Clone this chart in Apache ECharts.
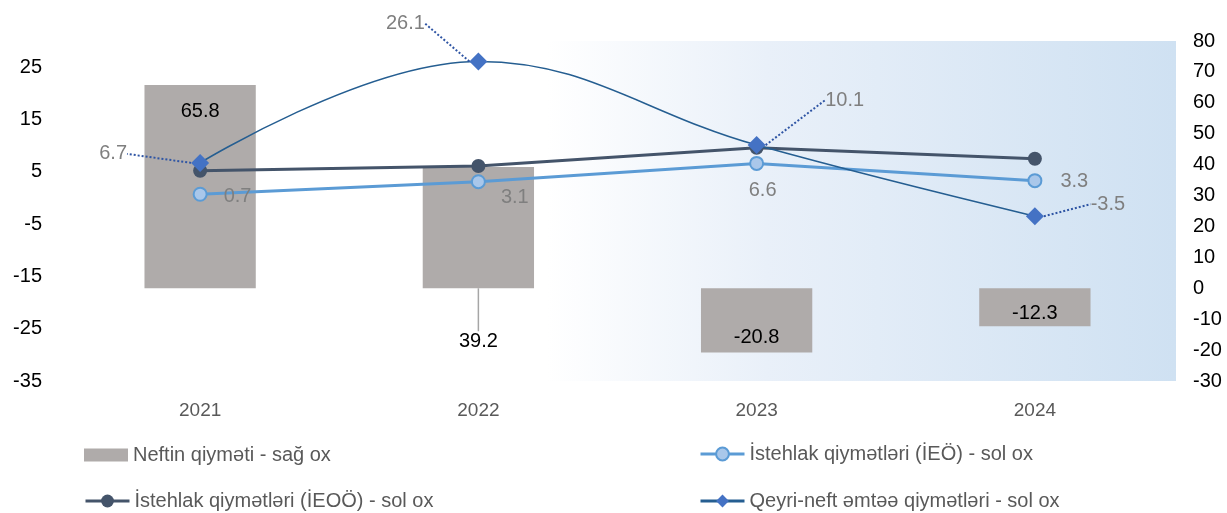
<!DOCTYPE html>
<html>
<head>
<meta charset="utf-8">
<script src="https://cdn.jsdelivr.net/npm/echarts@6/dist/echarts.min.js"></script>
<style>
  html, body { margin: 0; padding: 0; background: #fff; }
  #chart { width: 1227px; height: 513px; }
</style>
</head>
<body>
<div id="chart"></div>
<script>
// data
const years = ['2021', '2022', '2023', '2024'];
const oilPrice = [65.8, 39.2, -20.8, -12.3];      // sağ ox
const cpiIEO = [0.7, 3.1, 6.6, 3.3];              // sol ox
const cpiIEOO = [5.2, 6.1, 9.6, 7.5];             // sol ox
const nonOil = [6.7, 26.1, 10.1, -3.5];           // sol ox
const leftTickLabels = [-35, -25, -15, -5, 5, 15, 25];
const rightTickLabels = [-30, -20, -10, 0, 10, 20, 30, 40, 50, 60, 70, 80];
const seriesNames = [
  'Neftin qiyməti - sağ ox',
  'İstehlak qiymətləri (İEÖ) - sol ox',
  'İstehlak qiymətləri (İEOÖ) - sol ox',
  'Qeyri-neft əmtəə qiymətləri - sol ox'
];

// label placement (px)
const oilLabelPos = [
  { position: 'insideTop', distance: 17 },
  { position: 'bottom', distance: 5 },
  { position: 'insideBottom', distance: 5 },
  { position: 'insideBottom', distance: 3 }
];
const oilLabelShift = [0, 38, 0, 0];
const ieoLabelPos = [
  { position: 'right', distance: 16, offset: [0, 2] },
  { position: 'right', distance: 15, offset: [0, 16] },
  { position: 'bottom', distance: 5, offset: [6, 5] },
  { position: 'right', distance: 18, offset: [0, 1] }
];
const nonOilLabelShift = [[-87, 15], [-73, -14], [88, -21], [73, 12]];

const FONT = 'Arial, "Liberation Sans", sans-serif';
const chart = echarts.init(document.getElementById('chart'));

function legendAt(name, left, top, h, icon) {
  const lg = {
    data: [name], left: left, top: top, padding: 0,
    itemWidth: 44, itemHeight: h, itemGap: 5,
    lineStyle: { width: 3 },
    textStyle: { fontFamily: FONT, fontSize: 20, color: '#595959' },
    selectedMode: false
  };
  if (icon) lg.icon = icon;
  return lg;
}

chart.setOption({
  animation: false,
  backgroundColor: '#fff',
  textStyle: { fontFamily: FONT },
  grid: { left: 61, right: 53, top: 41, bottom: 132, containLabel: false },
  graphic: [{
    type: 'rect', z: -10, left: 547, top: 41,
    shape: { width: 629, height: 340 },
    style: {
      fill: new echarts.graphic.LinearGradient(0, 0, 1, 0, [
        { offset: 0, color: '#ffffff' },
        { offset: 0.35, color: '#e9f0f9' },
        { offset: 1, color: '#cfe1f2' }
      ])
    }
  }],
  legend: [
    legendAt(seriesNames[0], 84, 445, 13, 'rect'),
    legendAt(seriesNames[1], 699, 444, 16),
    legendAt(seriesNames[2], 84, 491, 16),
    legendAt(seriesNames[3], 699, 491, 16)
  ],
  xAxis: {
    type: 'category', data: years,
    axisLine: { show: false }, axisTick: { show: false }, splitLine: { show: false },
    axisLabel: { fontFamily: FONT, fontSize: 19, color: '#595959', margin: 20 }
  },
  yAxis: [{
    type: 'value', min: -35, max: 30, interval: 5, position: 'left',
    axisLine: { show: false }, axisTick: { show: false }, splitLine: { show: false },
    axisLabel: {
      fontFamily: FONT, fontSize: 20, color: '#000', margin: 19,
      formatter: v => leftTickLabels.includes(v) ? String(v) : ''
    }
  }, {
    type: 'value', min: -30, max: 80, interval: 10, position: 'right',
    axisLine: { show: false }, axisTick: { show: false }, splitLine: { show: false },
    axisLabel: {
      fontFamily: FONT, fontSize: 20, color: '#000', margin: 19, align: 'left',
      formatter: v => rightTickLabels.includes(v) ? String(v) : ''
    }
  }],
  series: [{
    name: seriesNames[0], type: 'bar', yAxisIndex: 1, barWidth: '40%',
    itemStyle: { color: '#afabaa' },
    data: oilPrice.map((v, i) => ({
      value: v,
      label: Object.assign({ show: true }, oilLabelPos[i])
    })),
    label: { fontFamily: FONT, fontSize: 20, color: '#000', formatter: p => p.value.toFixed(1) },
    labelLayout: p => ({ dy: oilLabelShift[p.dataIndex] }),
    labelLine: { show: true, lineStyle: { color: '#a6a6a6', width: 1.5 } },
    z: 2
  }, {
    name: seriesNames[1], type: 'line', yAxisIndex: 0,
    symbol: 'circle', symbolSize: 13,
    lineStyle: { color: '#5b9bd5', width: 3 },
    itemStyle: { color: '#a9c7ea', borderColor: '#5b9bd5', borderWidth: 2 },
    data: cpiIEO.map((v, i) => ({
      value: v,
      label: Object.assign({ show: true }, ieoLabelPos[i])
    })),
    label: { fontFamily: FONT, fontSize: 20, color: '#7f7f7f', formatter: p => p.value.toFixed(1) },
    z: 4
  }, {
    name: seriesNames[2], type: 'line', yAxisIndex: 0,
    symbol: 'circle', symbolSize: 14,
    lineStyle: { color: '#44546a', width: 3 },
    itemStyle: { color: '#44546a' },
    data: cpiIEOO,
    z: 5
  }, {
    name: seriesNames[3], type: 'line', yAxisIndex: 0, smooth: 0.4,
    symbol: 'diamond', symbolSize: 18,
    lineStyle: { color: '#255e91', width: 1.5 },
    itemStyle: { color: '#4472c4' },
    data: nonOil,
    label: {
      show: true, position: 'top', fontFamily: FONT, fontSize: 20, color: '#7f7f7f',
      formatter: p => p.value.toFixed(1)
    },
    labelLayout: p => ({ dx: nonOilLabelShift[p.dataIndex][0], dy: nonOilLabelShift[p.dataIndex][1] }),
    labelLine: { show: true, lineStyle: { color: '#2f55a4', width: 2, type: 'dotted' } },
    z: 6
  }]
});
</script>
</body>
</html>
